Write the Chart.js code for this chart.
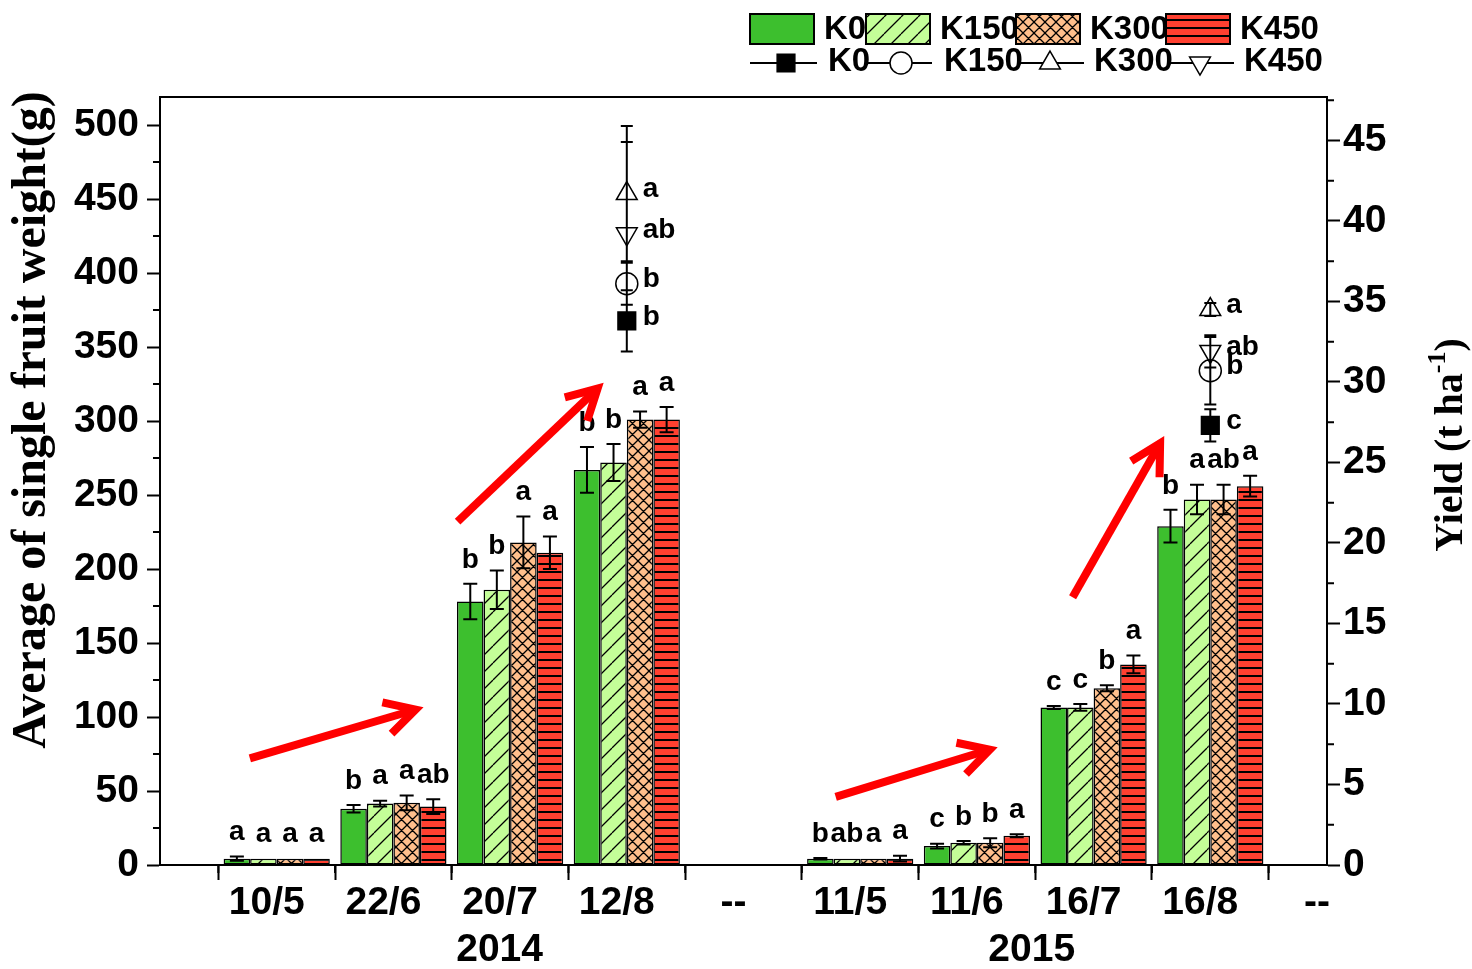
<!DOCTYPE html>
<html>
<head>
<meta charset="utf-8">
<title>Fruit weight and yield</title>
<script src="https://cdn.jsdelivr.net/npm/chart.js@4.4.1/dist/chart.umd.min.js"></script>
<style>
  html, body { margin: 0; padding: 0; background: #ffffff; }
  canvas { display: block; }
</style>
</head>
<body>
<canvas id="fruitChart" width="1472" height="969"></canvas>
<script>
// x axis is linear: each sampling date sits on an integer, '--' marks the year ends
const dateLabels = ['10/5', '22/6', '20/7', '12/8', '--', '11/5', '11/6', '16/7', '16/8', '--'];
const yearLabels = ['2014', '2015'];
const barX = [0, 1, 2, 3, 5, 6, 7, 8];

// average single fruit weight (g)
const weightK0   = [4.3, 38, 178, 267, 4.3, 12.8, 106.5, 229];
const weightK150 = [4.3, 41.5, 186, 272, 4.3, 15, 106.5, 247];
const weightK300 = [4.3, 42, 218, 301, 4.3, 15, 119.5, 247];
const weightK450 = [4.3, 39.5, 211, 301, 4.3, 19.8, 135.5, 256];

const errK0   = [1.5, 2.5, 12, 15.5, 0.5, 1.6, 1, 11];
const errK150 = [0, 2, 13, 12.5, 0, 1.2, 2.3, 10];
const errK300 = [0, 5, 17.5, 5.5, 0, 3, 2, 10];
const errK450 = [0, 5, 11, 8.5, 2, 1, 6, 7];

const lettersK0   = ['a', 'b', 'b', 'b', 'b', 'c', 'c', 'b'];
const lettersK150 = ['a', 'a', 'b', 'b', 'ab', 'b', 'c', 'a'];
const lettersK300 = ['a', 'a', 'a', 'a', 'a', 'b', 'b', 'ab'];
const lettersK450 = ['a', 'ab', 'a', 'a', 'a', 'a', 'a', 'a'];

// yield (t ha-1), right axis, last sampling of each year
const yieldX = [3, 8];
const yieldK0   = [33.8, 27.3];
const yieldK150 = [36.1, 30.7];
const yieldK300 = [41.7, 34.5];
const yieldK450 = [39.2, 31.9];

const yieldErrK0   = [1.9, 1.0];
const yieldErrK150 = [1.3, 2.1];
const yieldErrK300 = [4.2, 0.4];
const yieldErrK450 = [5.7, 1.0];

const yieldLettersK0   = ['b', 'c'];
const yieldLettersK150 = ['b', 'b'];
const yieldLettersK300 = ['a', 'a'];
const yieldLettersK450 = ['ab', 'ab'];

// red trend arrows, in axis units (x index, left axis value)
const arrows = [
  { from: [-0.23, 72], to: [1.19, 105] },
  { from: [1.55, 232], to: [2.75, 322] },
  { from: [4.79, 46], to: [6.11, 78] },
  { from: [6.82, 181], to: [7.57, 285] }
];

const SANS = "'Liberation Sans', Arial, Helvetica, sans-serif";
const SERIF = "'Liberation Serif', 'Times New Roman', serif";

// fill patterns like the Origin ones
function makePattern(bg, kind) {
    const size = { hatch: 17, cross: 11, hline: 8 }[kind];
    const c = document.createElement('canvas');
    c.width = size;
    c.height = size;
    const g = c.getContext('2d');
    g.fillStyle = bg;
    g.fillRect(0, 0, size, size);
    g.strokeStyle = '#000';
    g.lineWidth = 1.3;
    g.beginPath();
    if (kind === 'hatch' || kind === 'cross') {
        for (let k = -1; k <= 1; k++) {
            g.moveTo(k * size, size);
            g.lineTo(k * size + size, 0);
        }
    }
    if (kind === 'cross') {
        for (let k = -1; k <= 1; k++) {
            g.moveTo(k * size, 0);
            g.lineTo(k * size + size, size);
        }
    }
    if (kind === 'hline') {
        g.lineWidth = 2;
        g.moveTo(0, 4);
        g.lineTo(size, 4);
    }
    g.stroke();
    return g.createPattern(c, 'repeat');
}

const barSeries = [
    { label: 'K0', values: weightK0, errors: errK0, letters: lettersK0, fill: '#3dbf2e' },
    { label: 'K150', values: weightK150, errors: errK150, letters: lettersK150, fill: makePattern('#c4fe98', 'hatch') },
    { label: 'K300', values: weightK300, errors: errK300, letters: lettersK300, fill: makePattern('#ffbf8c', 'cross') },
    { label: 'K450', values: weightK450, errors: errK450, letters: lettersK450, fill: makePattern('#ff4030', 'hline') }
];

const yieldSeries = [
    { label: 'K0', values: yieldK0, errors: yieldErrK0, letters: yieldLettersK0, style: 'rect', radius: 12.5, rotation: 0, filled: true },
    { label: 'K150', values: yieldK150, errors: yieldErrK150, letters: yieldLettersK150, style: 'circle', radius: 11, rotation: 0, filled: false },
    { label: 'K300', values: yieldK300, errors: yieldErrK300, letters: yieldLettersK300, style: 'triangle', radius: 12, rotation: 0, filled: false },
    { label: 'K450', values: yieldK450, errors: yieldErrK450, letters: yieldLettersK450, style: 'triangle', radius: 12, rotation: 180, filled: false }
];

function drawMarker(ctx, s, x, y) {
    ctx.save();
    ctx.translate(x, y);
    ctx.rotate(s.rotation * Math.PI / 180);
    ctx.beginPath();
    if (s.style === 'rect') {
        const h = s.radius * Math.SQRT1_2;
        ctx.rect(-h, -h, 2 * h, 2 * h);
    } else if (s.style === 'circle') {
        ctx.arc(0, 0, s.radius, 0, Math.PI * 2);
    } else {
        const r = s.radius;
        ctx.moveTo(0, -r);
        ctx.lineTo(r * Math.sin(2 * Math.PI / 3), -r * Math.cos(2 * Math.PI / 3));
        ctx.lineTo(r * Math.sin(4 * Math.PI / 3), -r * Math.cos(4 * Math.PI / 3));
        ctx.closePath();
    }
    ctx.fillStyle = s.filled ? '#000' : '#fff';
    ctx.fill();
    ctx.lineWidth = 1.5;
    ctx.strokeStyle = '#000';
    ctx.stroke();
    ctx.restore();
}

function errorBar(ctx, x, yTop, yBot, cap) {
    ctx.moveTo(x, yTop);
    ctx.lineTo(x, yBot);
    ctx.moveTo(x - cap, yTop);
    ctx.lineTo(x + cap, yTop);
    ctx.moveTo(x - cap, yBot);
    ctx.lineTo(x + cap, yBot);
}

// error bars and significance letters
const errorBarPlugin = {
    id: 'errorBars',
    afterDatasetsDraw(chart) {
        const ctx = chart.ctx;
        const yS = chart.scales.y;
        const y2S = chart.scales.y2;
        ctx.save();
        ctx.strokeStyle = '#000';
        ctx.lineWidth = 2;
        ctx.beginPath();
        barSeries.forEach((s, i) => {
            chart.getDatasetMeta(i).data.forEach((bar, j) => {
                const e = s.errors[j];
                if (!e) return;
                errorBar(ctx, bar.x, yS.getPixelForValue(s.values[j] + e), yS.getPixelForValue(s.values[j] - e), 7);
            });
        });
        yieldSeries.forEach((s, i) => {
            chart.getDatasetMeta(barSeries.length + i).data.forEach((pt, j) => {
                const e = s.errors[j];
                errorBar(ctx, pt.x, y2S.getPixelForValue(s.values[j] + e), y2S.getPixelForValue(s.values[j] - e), 6);
            });
        });
        ctx.stroke();

        ctx.fillStyle = '#000';
        ctx.font = `bold 28px ${SANS}`;
        ctx.textAlign = 'center';
        ctx.textBaseline = 'middle';
        barSeries.forEach((s, i) => {
            chart.getDatasetMeta(i).data.forEach((bar, j) => {
                const top = yS.getPixelForValue(s.values[j] + s.errors[j]);
                ctx.fillText(s.letters[j], bar.x, top - 24);
            });
        });
        ctx.textAlign = 'left';
        yieldSeries.forEach((s, i) => {
            chart.getDatasetMeta(barSeries.length + i).data.forEach((pt, j) => {
                ctx.fillText(s.letters[j], pt.x + 16, pt.y - 4);
            });
        });
        ctx.restore();
    }
};

// frame top, minor ticks, year labels, axis titles
const axisExtras = {
    id: 'axisExtras',
    afterDraw(chart) {
        const { ctx, chartArea: a, scales } = chart;
        ctx.save();
        ctx.strokeStyle = '#000';
        ctx.lineWidth = 2;
        ctx.beginPath();
        ctx.moveTo(a.left - 1, a.top);
        ctx.lineTo(a.right + 1, a.top);
        for (let v = 25; v < scales.y.max; v += 50) {
            const py = scales.y.getPixelForValue(v);
            ctx.moveTo(a.left, py);
            ctx.lineTo(a.left - 7, py);
        }
        for (let v = 2.5; v < scales.y2.max; v += 5) {
            const py = scales.y2.getPixelForValue(v);
            ctx.moveTo(a.right, py);
            ctx.lineTo(a.right + 7, py);
        }
        for (let v = -0.5; v < 9; v += 1) {
            const px = scales.x.getPixelForValue(v);
            ctx.moveTo(px, a.bottom);
            ctx.lineTo(px, a.bottom + 8);
        }
        ctx.stroke();

        ctx.fillStyle = '#000';
        ctx.font = `bold 39px ${SANS}`;
        ctx.textAlign = 'center';
        ctx.textBaseline = 'middle';
        ctx.fillText(yearLabels[0], scales.x.getPixelForValue(1.91), 950);
        ctx.fillText(yearLabels[1], scales.x.getPixelForValue(6.47), 950);

        // left title
        ctx.save();
        ctx.translate(33, 420);
        ctx.rotate(-Math.PI / 2);
        ctx.font = `bold 48px ${SERIF}`;
        ctx.fillText('Average of single fruit weight(g)', 0, 0);
        ctx.restore();

        // right title with superscript
        ctx.save();
        ctx.translate(1452, 445);
        ctx.rotate(-Math.PI / 2);
        ctx.textAlign = 'left';
        const main = 'Yield (t ha';
        ctx.font = `bold 40px ${SERIF}`;
        const w1 = ctx.measureText(main).width;
        const wClose = ctx.measureText(')').width;
        ctx.font = `bold 26px ${SERIF}`;
        const wSup = ctx.measureText('-1').width;
        const start = -(w1 + wSup + wClose) / 2;
        ctx.font = `bold 40px ${SERIF}`;
        ctx.fillText(main, start, 0);
        ctx.fillText(')', start + w1 + wSup, 0);
        ctx.font = `bold 26px ${SERIF}`;
        ctx.fillText('-1', start + w1, -14);
        ctx.restore();
        ctx.restore();
    }
};

// red arrows
const arrowPlugin = {
    id: 'arrows',
    afterDraw(chart) {
        const { ctx, scales } = chart;
        ctx.save();
        ctx.strokeStyle = '#ff0000';
        ctx.lineWidth = 8;
        ctx.lineJoin = 'miter';
        arrows.forEach(ar => {
            const fx = scales.x.getPixelForValue(ar.from[0]);
            const fy = scales.y.getPixelForValue(ar.from[1]);
            const tx = scales.x.getPixelForValue(ar.to[0]);
            const ty = scales.y.getPixelForValue(ar.to[1]);
            const ang = Math.atan2(ty - fy, tx - fx);
            const len = 34;
            ctx.beginPath();
            ctx.moveTo(fx, fy);
            ctx.lineTo(tx - 4 * Math.cos(ang), ty - 4 * Math.sin(ang));
            ctx.stroke();
            ctx.beginPath();
            ctx.moveTo(tx + len * Math.cos(ang + Math.PI - 0.5), ty + len * Math.sin(ang + Math.PI - 0.5));
            ctx.lineTo(tx, ty);
            ctx.lineTo(tx + len * Math.cos(ang + Math.PI + 0.5), ty + len * Math.sin(ang + Math.PI + 0.5));
            ctx.stroke();
        });
        ctx.restore();
    }
};

// legend at the top right, two rows
const legendPlugin = {
    id: 'legendTop',
    afterDraw(chart) {
        const ctx = chart.ctx;
        const swatchX = [750, 866, 1016, 1166];
        const textX1 = [824, 940, 1090, 1240];
        const lineX = [[750, 817], [866, 932], [1017, 1084], [1167, 1234]];
        const markX = [786, 901, 1050, 1200];
        const textX2 = [828, 944, 1094, 1244];
        ctx.save();
        ctx.font = `bold 33px ${SANS}`;
        ctx.textBaseline = 'middle';
        ctx.textAlign = 'left';
        barSeries.forEach((s, i) => {
            ctx.fillStyle = s.fill;
            ctx.fillRect(swatchX[i], 14, 64, 30);
            ctx.lineWidth = 2;
            ctx.strokeStyle = '#000';
            ctx.strokeRect(swatchX[i], 14, 64, 30);
            ctx.fillStyle = '#000';
            ctx.fillText(s.label, textX1[i], 30);
        });
        yieldSeries.forEach((s, i) => {
            ctx.beginPath();
            ctx.lineWidth = 2;
            ctx.strokeStyle = '#000';
            ctx.moveTo(lineX[i][0], 63);
            ctx.lineTo(lineX[i][1], 63);
            ctx.stroke();
            drawMarker(ctx, s, markX[i], 63);
            ctx.fillStyle = '#000';
            ctx.fillText(s.label, textX2[i], 62);
        });
        ctx.restore();
    }
};

const tickFont = { family: SANS, size: 39, weight: 'bold' };

const datasets = barSeries.map(s => ({
    type: 'bar',
    label: s.label,
    yAxisID: 'y',
    data: barX.map((x, j) => ({ x: x, y: s.values[j] })),
    backgroundColor: s.fill,
    borderColor: '#000',
    borderWidth: 1.5,
    borderSkipped: false,
    categoryPercentage: 0.91,
    barPercentage: 1.0
})).concat(yieldSeries.map(s => ({
    type: 'scatter',
    label: s.label,
    yAxisID: 'y2',
    data: yieldX.map((x, j) => ({ x: x, y: s.values[j] })),
    pointStyle: s.style,
    pointRadius: s.radius,
    pointRotation: s.rotation,
    pointBackgroundColor: s.filled ? '#000' : 'rgba(0,0,0,0)',
    pointBorderColor: '#000',
    pointBorderWidth: 1.5,
    showLine: false
})));

new Chart(document.getElementById('fruitChart').getContext('2d'), {
    type: 'bar',
    data: { datasets: datasets },
    options: {
        responsive: false,
        animation: false,
        layout: { padding: { top: 97, left: 0, right: 0, bottom: 0 } },
        plugins: {
            legend: { display: false },
            tooltip: { enabled: false }
        },
        scales: {
            x: {
                type: 'linear',
                min: -1,
                max: 9,
                offset: false,
                afterBuildTicks: scale => {
                    scale.ticks = [-1].concat(dateLabels.map((l, i) => i)).map(v => ({ value: v }));
                },
                afterFit: scale => { scale.height = 104; },
                grid: { drawOnChartArea: false, tickLength: 15, tickWidth: 2, tickColor: '#000' },
                border: { color: '#000', width: 2 },
                ticks: {
                    callback: v => (v >= 0 ? dateLabels[v] : ''),
                    font: tickFont,
                    color: '#000',
                    padding: 0,
                    labelOffset: -10,
                    maxRotation: 0,
                    autoSkip: false
                }
            },
            y: {
                position: 'left',
                min: 0,
                max: 519,
                afterFit: scale => { scale.width = 160; },
                grid: { drawOnChartArea: false, tickLength: 13, tickWidth: 2, tickColor: '#000' },
                border: { color: '#000', width: 2 },
                ticks: { stepSize: 50, includeBounds: false, font: tickFont, color: '#000', padding: 8 }
            },
            y2: {
                position: 'right',
                min: 0,
                max: 47.7,
                afterFit: scale => { scale.width = 145; },
                grid: { drawOnChartArea: false, tickLength: 13, tickWidth: 2, tickColor: '#000' },
                border: { color: '#000', width: 2 },
                ticks: { stepSize: 5, includeBounds: false, font: tickFont, color: '#000', padding: 3 }
            }
        }
    },
    plugins: [errorBarPlugin, axisExtras, arrowPlugin, legendPlugin]
});
</script>
</body>
</html>
